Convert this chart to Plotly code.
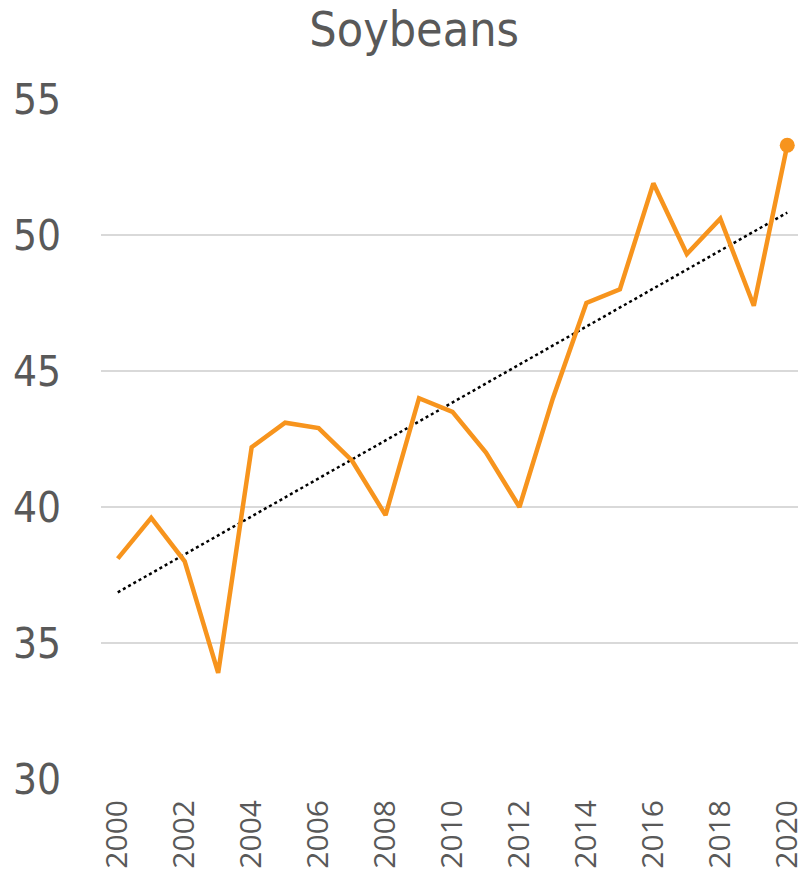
import numpy as np
import plotly.graph_objects as go

years = list(range(2000, 2021))
yields = [38.1, 39.6, 38.0, 33.9, 42.2, 43.1, 42.9, 41.7, 39.7, 44.0,
          43.5, 42.0, 40.0, 44.0, 47.5, 48.0, 51.9, 49.3, 50.6, 47.4, 53.3]
x_ticks = list(range(2000, 2021, 2))
y_ticks = [30, 35, 40, 45, 50, 55]
title_text = "Soybeans"

slope, intercept = np.polyfit(years, yields, 1)
trend = [slope * y + intercept for y in years]

ORANGE = "#F7941D"
GREY = "#595959"
NARROW = "Liberation Sans Narrow, DejaVu Sans Condensed, sans-serif"

fig = go.Figure()
fig.add_trace(go.Scatter(x=years, y=trend, mode="lines",
                         line=dict(color="black", width=2.5, dash="dot"),
                         hoverinfo="skip", showlegend=False))
fig.add_trace(go.Scatter(x=years, y=yields, mode="lines",
                         line=dict(color=ORANGE, width=4.5),
                         showlegend=False))
fig.add_trace(go.Scatter(x=[years[-1]], y=[yields[-1]], mode="markers",
                         marker=dict(color=ORANGE, size=15),
                         showlegend=False))

fig.update_layout(
    width=798, height=871,
    paper_bgcolor="white", plot_bgcolor="white",
    margin=dict(l=93, r=2, t=91, b=100, autoexpand=False),
    title=dict(text=title_text, x=0.509, xanchor="center", y=0.995, yanchor="top",
               pad=dict(t=0), font=dict(family=NARROW, size=48, color=GREY)),
    xaxis=dict(range=[1999.5, 2020.5], tickvals=x_ticks, ticktext=[str(v) for v in x_ticks],
               tickangle=-90, showgrid=False, zeroline=False, showline=False,
               ticks="", ticklabelstandoff=14, ticklabeloverflow="allow",
               tickfont=dict(family="Open Sans, sans-serif", size=30, color=GREY)),
    yaxis=dict(range=[30, 55], tickvals=y_ticks, showgrid=True, gridcolor="#D9D9D9",
               gridwidth=1.5, zeroline=False, showline=False, ticks="",
               ticklabelstandoff=39,
               tickfont=dict(family=NARROW, size=42, color=GREY)),
)

fig.write_html("out.html")
